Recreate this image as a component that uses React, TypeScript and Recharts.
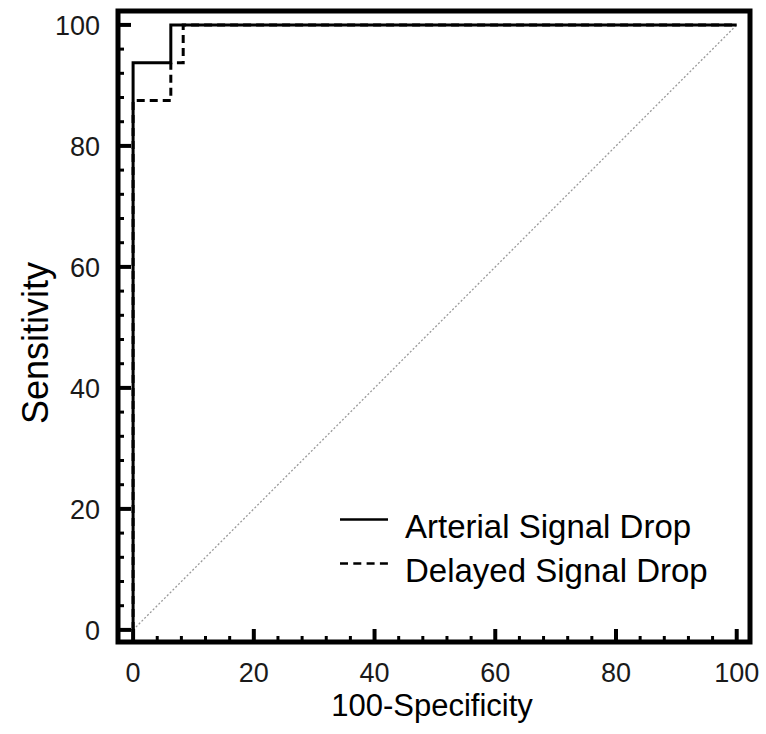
import React from 'react';
import { LineChart, Line, XAxis, YAxis, ReferenceArea, Label } from 'recharts';

// ROC steps (100-specificity, sensitivity)
const arterialX = [0, 0, 6.25, 6.25, 100];
const arterialY = [0, 93.75, 93.75, 100, 100];
const delayedX = [0, 0, 6.25, 6.25, 8.3, 8.3, 100];
const delayedY = [0, 87.5, 87.5, 93.75, 93.75, 100, 100];
const chanceX = [0, 100];
const chanceY = [0, 100];

const tickValues = [0, 4, 8, 12, 16, 20, 24, 28, 32, 36, 40, 44, 48, 52, 56, 60, 64, 68, 72, 76, 80, 84, 88, 92, 96, 100];
const seriesNames = ['Arterial Signal Drop', 'Delayed Signal Drop'];

const toPoints = (xs: number[], ys: number[]) => xs.map((x, i) => ({ x, y: ys[i] }));
const arterial = toPoints(arterialX, arterialY);
const delayed = toPoints(delayedX, delayedY);
const chance = toPoints(chanceX, chanceY);

const FONT = '"Liberation Sans", Arial, Helvetica, sans-serif';
const X_DOMAIN: [number, number] = [-2.5, 102.2];
const Y_DOMAIN: [number, number] = [-2, 102.3];

const XTick = (props: any) => {
  const { x, y, payload } = props;
  const major = payload.value % 20 === 0;
  return (
    <g>
      <line x1={x} x2={x} y1={y} y2={y - (major ? 13 : 6)} stroke="#000" strokeWidth={major ? 4 : 3} />
      {major && (
        <text x={x} y={y + 40} textAnchor="middle" fontSize={27} fontFamily={FONT} fill="#1a1a1a">
          {payload.value}
        </text>
      )}
    </g>
  );
};

const YTick = (props: any) => {
  const { x, y, payload } = props;
  const major = payload.value % 20 === 0;
  return (
    <g>
      <line x1={x} x2={x + (major ? 13 : 6)} y1={y} y2={y} stroke="#000" strokeWidth={major ? 4 : 3} />
      {major && (
        <text x={x - 18} y={y + 10} textAnchor="end" fontSize={27} fontFamily={FONT} fill="#1a1a1a">
          {payload.value}
        </text>
      )}
    </g>
  );
};

// legend sits inside the plot, drawn as an overlay so it takes no room from the chart
const LegendBox = () => (
  <div style={{ position: 'absolute', left: 338, top: 505, fontFamily: FONT, fontSize: 33, color: '#000' }}>
    {seriesNames.map((name, i) => (
      <div key={name} style={{ position: 'relative', height: 44, lineHeight: '44px', paddingLeft: 67, whiteSpace: 'nowrap' }}>
        <svg width={50} height={44} style={{ position: 'absolute', left: 0, top: 0 }}>
          <line x1={2} x2={50} y1={14.5} y2={14.5} stroke="#000" strokeWidth={2.5} strokeDasharray={i === 1 ? '8 5.3' : undefined} />
        </svg>
        {name}
      </div>
    ))}
  </div>
);

const App: React.FC = () => {
  return (
    <div style={{ position: 'absolute', left: 0, top: 0, width: 766, height: 734 }}>
      <LineChart width={766} height={734} margin={{ top: 11, right: 16, bottom: 0, left: 0 }}>
        <XAxis
          type="number"
          dataKey="x"
          domain={X_DOMAIN}
          allowDataOverflow
          ticks={tickValues}
          interval={0}
          tickSize={0}
          tickMargin={0}
          tickLine={false}
          axisLine={false}
          tick={<XTick />}
          height={92}
        >
          <Label
            content={() => (
              <text x={432} y={716} textAnchor="middle" fontSize={31} fontFamily={FONT} fill="#000">
                100-Specificity
              </text>
            )}
          />
        </XAxis>
        <YAxis
          type="number"
          dataKey="y"
          domain={Y_DOMAIN}
          allowDataOverflow
          ticks={tickValues}
          interval={0}
          tickSize={0}
          tickMargin={0}
          tickLine={false}
          axisLine={false}
          tick={<YTick />}
          width={118}
        >
          <Label
            content={() => (
              <text
                x={48}
                y={343}
                transform="rotate(-90 48 343)"
                textAnchor="middle"
                fontSize={36}
                fontFamily={FONT}
                fill="#000"
              >
                Sensitivity
              </text>
            )}
          />
        </YAxis>
        <Line
          data={chance}
          dataKey="y"
          type="linear"
          stroke="#9a9a9a"
          strokeWidth={1.3}
          strokeDasharray="2 2"
          dot={false}
          activeDot={false}
          isAnimationActive={false}
          legendType="none"
        />
        <Line
          data={arterial}
          dataKey="y"
          name={seriesNames[0]}
          type="linear"
          stroke="#000"
          strokeWidth={3}
          dot={false}
          activeDot={false}
          isAnimationActive={false}
        />
        <Line
          data={delayed}
          dataKey="y"
          name={seriesNames[1]}
          type="linear"
          stroke="#000"
          strokeWidth={3}
          strokeDasharray="8 5"
          dot={false}
          activeDot={false}
          isAnimationActive={false}
        />
        <ReferenceArea
          x1={X_DOMAIN[0]}
          x2={X_DOMAIN[1]}
          y1={Y_DOMAIN[0]}
          y2={Y_DOMAIN[1]}
          fill="none"
          stroke="#000"
          strokeWidth={5}
          ifOverflow="visible"
        />
      </LineChart>
      <LegendBox />
    </div>
  );
};

export default App;
